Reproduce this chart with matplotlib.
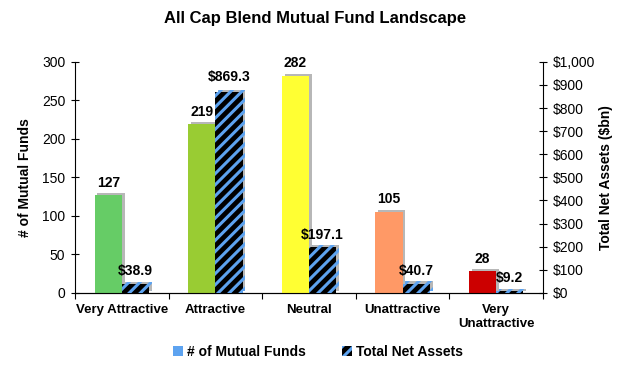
import numpy as np
import matplotlib
matplotlib.use("Agg")
import matplotlib.pyplot as plt
import matplotlib.patheffects as pe
from matplotlib.patches import Patch
from matplotlib.ticker import FuncFormatter, MultipleLocator

plt.rcParams['font.family'] = ['Liberation Sans', 'DejaVu Sans']
plt.rcParams['hatch.linewidth'] = 2.2

########## data ##########
categories  = ['Very Attractive', 'Attractive', 'Neutral', 'Unattractive', 'Very\nUnattractive']
fund_counts = [127, 219, 282, 105, 28]
net_assets  = [38.9, 869.3, 197.1, 40.7, 9.2]
bar_colors  = ['#66CC66', '#99CC33', '#FFFF33', '#FF9966', '#CC0000']

########## style ##########
hatch_blue = '#5DA3F0'
bw = 0.29
x = np.arange(len(categories))
shadow = [pe.SimplePatchShadow(offset=(2, 1.5), shadow_rgbFace='#888888', alpha=0.6), pe.Normal()]

fig = plt.figure(figsize=(6.3, 3.68), dpi=100)
ax = fig.add_axes([0.119, 0.204, 0.743, 0.628])
ax2 = ax.twinx()

bars1 = ax.bar(x - bw / 2, fund_counts, bw, color=bar_colors, zorder=3)
for b in bars1:
    b.set_path_effects(shadow)

bars2 = ax2.bar(x + bw / 2, net_assets, bw, color='black', edgecolor=hatch_blue,
                hatch='///', linewidth=0, zorder=3)
for b in bars2:
    b.set_path_effects(shadow)

for xi, v in zip(x, fund_counts):
    ax.annotate(f'{v}', (xi - bw / 2, v), xytext=(0, 4), textcoords='offset points',
                ha='center', va='bottom', fontsize=10, fontweight='bold')
for xi, v in zip(x, net_assets):
    dy = 6 if v > 500 else 4
    ax2.annotate(f'${v:,.1f}', (xi + bw / 2, v), xytext=(0, dy), textcoords='offset points',
                 ha='center', va='bottom', fontsize=10, fontweight='bold')

########## axes ##########
ax.set_xlim(-0.5, len(categories) - 0.5)
ax.set_ylim(0, 300)
ax2.set_ylim(0, 1000)
ax.yaxis.set_major_locator(MultipleLocator(50))
ax2.yaxis.set_major_locator(MultipleLocator(100))
ax2.yaxis.set_major_formatter(FuncFormatter(lambda v, p: f'${v:,.0f}'))

ax.set_xticks(np.arange(len(categories) + 1) - 0.5)
ax.set_xticklabels([])
ax.set_xticks(x, minor=True)
ax.set_xticklabels(categories, minor=True, fontsize=9.5, fontweight='bold')
ax.tick_params(axis='x', which='minor', length=0, pad=8)
ax.tick_params(axis='x', which='major', length=4, direction='out')
ax.tick_params(axis='y', labelsize=10, length=6, direction='inout', pad=4)
ax2.tick_params(axis='y', labelsize=10, length=6, direction='inout', pad=4)

for a in (ax, ax2):
    a.spines['top'].set_visible(False)
ax2.spines['left'].set_visible(False)
ax.spines['right'].set_visible(False)

ax.set_ylabel('# of Mutual Funds', fontsize=10, fontweight='bold', labelpad=7)
ax2.set_ylabel('Total Net Assets ($bn)', fontsize=10, fontweight='bold', labelpad=3)
fig.suptitle('All Cap Blend Mutual Fund Landscape', fontsize=12, fontweight='bold', y=0.97)

########## legend ##########
handles = [Patch(facecolor=hatch_blue),
           Patch(facecolor='black', edgecolor=hatch_blue, hatch='///', linewidth=0)]
fig.legend(handles, ['# of Mutual Funds', 'Total Net Assets'], loc='center',
           bbox_to_anchor=(0.505, 0.043), ncol=2, frameon=False, handlelength=0.7,
           handleheight=0.7, handletextpad=0.3, columnspacing=2.6,
           prop={'weight': 'bold', 'size': 10})

fig.savefig('out.png', dpi=100)
